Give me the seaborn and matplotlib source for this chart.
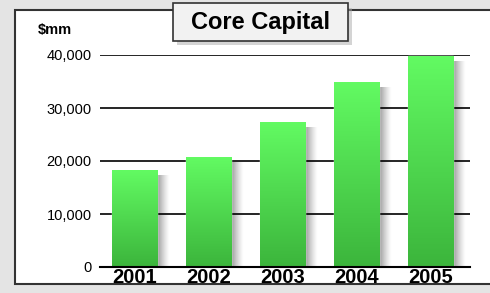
import matplotlib
matplotlib.use("Agg")
import matplotlib.pyplot as plt
import seaborn as sns
import numpy as np
import pandas as pd
from matplotlib.colors import LinearSegmentedColormap
from matplotlib.patches import Rectangle, FancyBboxPatch

# data
years = ["2001", "2002", "2003", "2004", "2005"]
core_capital = [18300, 20700, 27300, 34900, 39800]
y_ticks = [0, 10000, 20000, 30000, 40000]
y_labels = ["0", "10,000", "20,000", "30,000", "40,000"]

df = pd.DataFrame({"year": years, "capital": core_capital})

sns.set_style("white")
plt.rcParams["font.family"] = ["Liberation Sans", "DejaVu Sans"]
plt.rcParams["text.color"] = "black"
plt.rcParams["xtick.color"] = "black"
plt.rcParams["ytick.color"] = "black"

narrow = ["DejaVu Sans Condensed", "Liberation Sans Narrow", "Liberation Sans"]

fig = plt.figure(figsize=(4.9, 2.93), dpi=100)
fig.patch.set_facecolor("#e4e4e4")

# white panel with dark border
panel = Rectangle((15 / 490, 9 / 293), 1.0, 274 / 293, transform=fig.transFigure,
                  facecolor="white", edgecolor="#333333", linewidth=1.5, zorder=-5)
fig.patches.append(panel)

ax = fig.add_axes([100 / 490, 26 / 293, 370 / 490, 212 / 293])
ax.set_facecolor("none")
ax.set_zorder(1)

sns.barplot(data=df, x="year", y="capital", color="#55ee55", width=0.61, ax=ax,
            zorder=2)

green = LinearSegmentedColormap.from_list("g", ["#3cb53c", "#62fa62"])
grad = np.linspace(0, 1, 100).reshape(-1, 1)
shade = np.zeros((1, 50, 4))
shade[..., 3] = np.linspace(0.5, 0, 50) ** 1.3
for p in ax.patches:
    x, w, h = p.get_x(), p.get_width(), p.get_height()
    # soft shadow on the right
    ax.imshow(shade, extent=[x + w, x + w + 0.17, 0, h - 1000], aspect="auto",
              zorder=1.5, origin="lower")
    img = ax.imshow(grad, extent=[x, x + w, 0, h], cmap=green, aspect="auto",
                    origin="lower", zorder=2.5)
    img.set_clip_path(p)
    p.set_clip_on(False)

ax.set_xlim(-0.47, 4.53)
ax.set_ylim(0, 40000)
ax.set_yticks(y_ticks)
ax.set_yticklabels(y_labels, fontsize=10.5)
ax.yaxis.grid(True, color="black", linewidth=1.2)
ax.set_axisbelow(True)
ax.tick_params(axis="y", length=3, width=1.2, color="black", pad=3)
ax.tick_params(axis="x", length=0, pad=1)
for lbl in ax.get_xticklabels():
    lbl.set_fontfamily(narrow)
    lbl.set_fontweight("bold")
    lbl.set_fontsize(14.5)
ax.set_xlabel("")
ax.set_ylabel("")
for s in ["top", "right", "left"]:
    ax.spines[s].set_visible(False)
ax.spines["bottom"].set_color("black")
ax.spines["bottom"].set_linewidth(1.5)
ax.spines["bottom"].set_zorder(5)

fig.text(38 / 490, 1 - 30 / 293, "$mm", fontsize=10.5, fontweight="bold",
         family=narrow, va="center")

# title box with shadow
shadow = FancyBboxPatch((177 / 490, 1 - 45 / 293), 175 / 490, 37 / 293,
                        boxstyle="square,pad=0", transform=fig.transFigure,
                        facecolor="#aaaaaa", edgecolor="none", alpha=0.5, zorder=3)
box = FancyBboxPatch((173 / 490, 1 - 41 / 293), 175 / 490, 38 / 293,
                     boxstyle="square,pad=0", transform=fig.transFigure,
                     facecolor="#f2f2f2", edgecolor="#333333", linewidth=1.2, zorder=4)
fig.patches.extend([shadow, box])
fig.text(260 / 490, 1 - 22 / 293, "Core Capital", fontsize=17, fontweight="bold",
         family=narrow, ha="center", va="center", zorder=5)

fig.savefig("out.png", dpi=100, facecolor=fig.get_facecolor())
